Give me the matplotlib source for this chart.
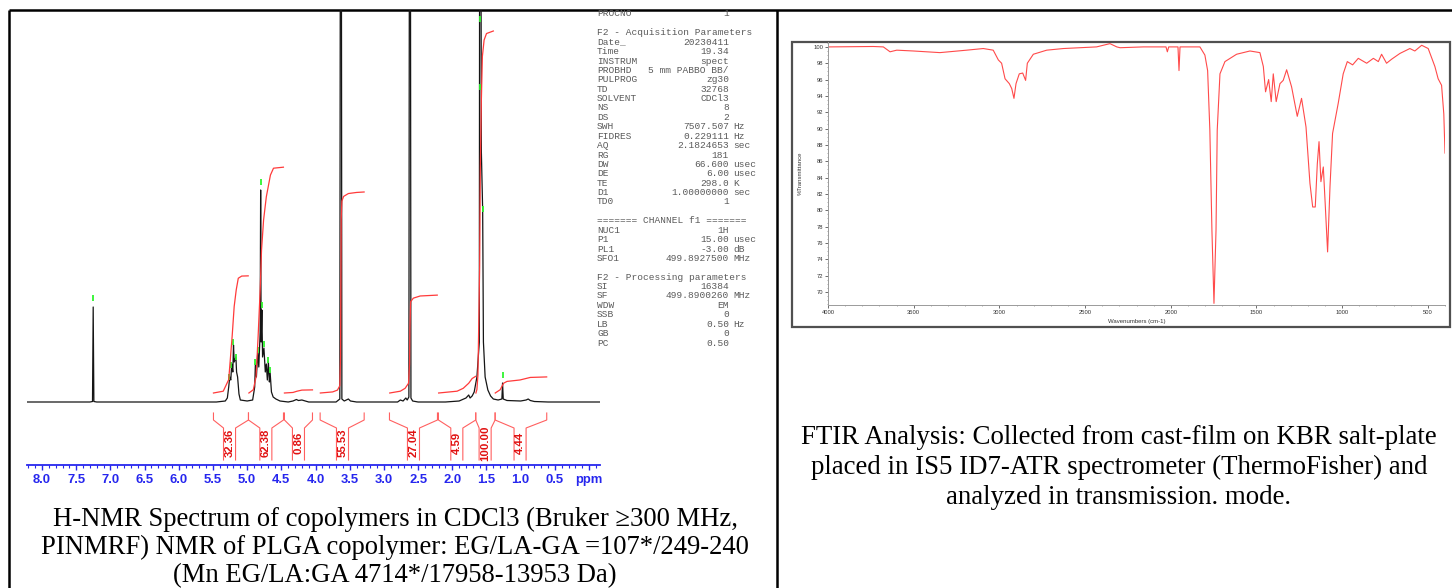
import matplotlib
matplotlib.use('Agg')
import matplotlib.pyplot as plt
from matplotlib.patches import Rectangle
from matplotlib.ticker import MultipleLocator, FuncFormatter

W, H = 1452, 588
plt.rcParams['font.family'] = ['Liberation Sans', 'DejaVu Sans']

# ---------------- H-NMR trace (ppm, intensity above baseline)
nmr_ppm = [8.22, 7.30, 7.262, 7.252, 7.242, 7.20, 5.45, 5.32, 5.29, 5.27,
           5.255, 5.24, 5.225, 5.21, 5.20, 5.19, 5.165, 5.155, 5.14, 5.12,
           5.10, 5.00, 4.92, 4.89, 4.88, 4.865, 4.845, 4.83, 4.81, 4.803,
           4.796, 4.785, 4.775, 4.755, 4.735, 4.72, 4.705, 4.69, 4.675, 4.665,
           4.645, 4.62, 4.58, 4.52, 4.40, 4.33, 4.28, 4.25, 4.20, 4.10,
           3.70, 3.645, 3.630, 3.615, 3.58, 3.52, 3.49, 3.40, 2.80, 2.76,
           2.72, 2.68, 2.66, 2.635, 2.620, 2.605, 2.58, 2.50, 2.10, 1.90,
           1.80, 1.76, 1.74, 1.71, 1.68, 1.64, 1.605, 1.595, 1.575, 1.556,
           1.545, 1.52, 1.48, 1.44, 1.40, 1.33, 1.275, 1.265, 1.255, 1.20,
           1.00, 0.92, 0.89, 0.86, 0.80, 0.60, -0.16]
nmr_int = [0, 0, 0.5, 95, 0.5, 0, 0, 1, 4, 15,
           25, 22, 38, 30, 57, 40, 45, 30, 25, 8,
           2, 1, 2, 15, 38, 25, 50, 35, 70, 212,
           60, 92, 45, 54, 30, 38, 22, 40, 20, 30,
           10, 5, 3, 1, 0, 1, 2.5, 1.5, 2, 0,
           0, 3, 1000, 3, 1, 3, 1, 0, 0, 2,
           1, 4, 2, 5, 1000, 4, 1, 0, 0, 1,
           4, 7, 4, 6, 10, 25, 60, 1000, 250, 192,
           60, 25, 12, 6, 3, 2, 3, 19, 3, 1.5,
           1, 2, 3, 1.5, 0.5, 0, 0]

# green peak-pick ticks (ppm, height of the tick foot)
pick_ppm = [7.252, 5.26, 5.23, 5.20, 5.16, 4.88, 4.84, 4.803, 4.785, 4.75,
            4.70, 4.67, 1.595, 1.595, 1.556, 1.265]
pick_h = [101, 22, 34, 57, 42, 37, 49, 217, 94, 55,
          39, 29, 380, 312, 190, 24]

# integrals
int_value = [32.36, 62.38, 0.86, 55.53, 27.04, 4.59, 100.00, 4.44]
int_from = [5.493, 4.981, 4.455, 3.933, 2.919, 2.203, 1.657, 1.374]
int_to = [4.981, 4.469, 4.045, 3.289, 2.217, 1.657, 1.374, 0.619]
int_label_ppm = [5.258, 4.727, 4.25, 3.606, 2.568, 1.934, 1.52, 1.009]
int_curve_ppm = [
    [5.493, 5.35, 5.27, 5.22, 5.19, 5.16, 5.13, 5.08, 4.985],
    [4.975, 4.91, 4.87, 4.84, 4.81, 4.79, 4.76, 4.72, 4.66, 4.615, 4.47],
    [4.455, 4.33, 4.27, 4.20, 4.045],
    [3.93, 3.75, 3.68, 3.645, 3.635, 3.63, 3.625, 3.615, 3.59, 3.52, 3.40, 3.29],
    [2.915, 2.76, 2.69, 2.64, 2.625, 2.62, 2.61, 2.57, 2.47, 2.22],
    [2.20, 1.93, 1.84, 1.76, 1.71, 1.66],
    [1.655, 1.64, 1.625, 1.60, 1.59, 1.575, 1.56, 1.535, 1.50, 1.40],
    [1.372, 1.30, 1.25, 1.20, 1.01, 0.86, 0.62],
]
int_curve_val = [
    [0, 0.5, 3.7, 15.6, 23.9, 28.5, 31.7, 32.3, 32.36],
    [0, 0.9, 4.5, 15.6, 28.5, 39.5, 47.8, 54.2, 60.2, 62.1, 62.38],
    [0, 0.15, 0.5, 0.8, 0.86],
    [0, 0.3, 0.8, 2.0, 10, 30, 48, 53, 54.3, 55.1, 55.4, 55.53],
    [0, 0.5, 1.3, 2.7, 8, 18, 25.2, 26.2, 26.8, 27.04],
    [0, 0.5, 1.3, 2.7, 4.0, 4.59],
    [0, 1.0, 5, 35, 62.5, 81, 93, 97.5, 99.3, 100],
    [0, 0.9, 2.7, 3.2, 3.6, 4.3, 4.44],
]

# acquisition / processing parameters
par_label = ['PROCNO', '', 'F2 - Acquisition Parameters', 'Date_', 'Time', 'INSTRUM',
             'PROBHD', 'PULPROG', 'TD', 'SOLVENT', 'NS', 'DS', 'SWH', 'FIDRES', 'AQ',
             'RG', 'DW', 'DE', 'TE', 'D1', 'TD0', '', '======= CHANNEL f1 =======',
             'NUC1', 'P1', 'PL1', 'SFO1', '', 'F2 - Processing parameters', 'SI', 'SF',
             'WDW', 'SSB', 'LB', 'GB', 'PC']
par_value = ['1', '', '', '20230411', '19.34', 'spect', '5 mm PABBO BB/', 'zg30',
             '32768', 'CDCl3', '8', '2', '7507.507', '0.229111', '2.1824653', '181',
             '66.600', '6.00', '298.0', '1.00000000', '1', '', '', '1H', '15.00',
             '-3.00', '499.8927500', '', '', '16384', '499.8900260', 'EM', '0',
             '0.50', '0', '0.50']
par_unit = ['', '', '', '', '', '', '', '', '', '', '', '', 'Hz', 'Hz', 'sec', '',
            'usec', 'usec', 'K', 'sec', '', '', '', '', 'usec', 'dB', 'MHz', '', '',
            '', 'MHz', '', '', 'Hz', '', '']

# ---------------- FTIR trace (wavenumber, %T)
ftir_wn = [4000, 3988, 3736, 3677, 3638, 3599, 3502, 3347, 3191, 3094,
           3036, 3006, 2987, 2967, 2942, 2928, 2915, 2903, 2884, 2864,
           2847, 2837, 2802, 2724, 2627, 2433, 2355, 2315, 2296, 2160,
           2028, 2020, 2012, 1958, 1952, 1946, 1830, 1801, 1785, 1772,
           1760, 1748, 1736, 1729, 1713, 1684, 1616, 1538, 1480, 1460,
           1447, 1429, 1414, 1402, 1385, 1363, 1344, 1324, 1295, 1262,
           1237, 1211, 1188, 1172, 1157, 1145, 1135, 1124, 1110, 1099,
           1085, 1071, 1056, 1023, 994, 970, 939, 906, 857, 818,
           789, 770, 741, 711, 663, 605, 576, 536, 498, 459,
           440, 420, 407, 400]
ftir_T = [100.0, 100.0, 100.05, 100.0, 99.4, 99.6, 99.5, 99.3, 99.6, 99.8,
          99.6, 98.4, 98.0, 96.1, 95.5, 94.9, 93.7, 95.5, 96.7, 96.8,
          95.9, 98.0, 99.1, 99.6, 99.8, 100.0, 100.4, 100.0, 99.9, 100.0,
          100.0, 99.4, 100.0, 100.0, 97.1, 100.0, 100.0, 99.0, 97.1, 89.8,
          77.6, 68.6, 77.6, 89.8, 96.7, 98.2, 99.1, 99.5, 99.3, 97.6,
          94.5, 96.0, 93.3, 96.7, 93.3, 95.5, 95.9, 97.2, 95.1, 91.5,
          93.7, 90.2, 83.3, 80.4, 80.4, 85.7, 88.4, 83.5, 85.3, 80.8,
          74.9, 82.9, 89.4, 93.1, 96.7, 98.2, 97.8, 98.6, 98.0, 98.6,
          98.2, 99.1, 98.0, 98.5, 99.2, 99.8, 99.5, 100.2, 99.8, 97.6,
          96.1, 95.3, 91.8, 87.0]

nmr_caption = ['H-NMR Spectrum of copolymers in CDCl3 (Bruker \u2265300 MHz,',
               'PINMRF) NMR of PLGA copolymer: EG/LA-GA =107*/249-240',
               '(Mn EG/LA:GA 4714*/17958-13953 Da)']
ftir_caption = ['FTIR Analysis: Collected from cast-film on KBR salt-plate',
                'placed in IS5 ID7-ATR spectrometer (ThermoFisher) and',
                'analyzed in transmission. mode.']


def frac(x0, y0, x1, y1):
    return [x0 / W, 1 - y1 / H, (x1 - x0) / W, (y1 - y0) / H]


fig = plt.figure(figsize=(W / 100, H / 100), dpi=100)
bg = fig.add_axes([0, 0, 1, 1])
bg.set_xlim(0, W)
bg.set_ylim(H, 0)
bg.axis('off')

# table borders
for xs, ys in [([9, W], [10, 10]), ([9, 9], [10, H]), ([777, 777], [10, H])]:
    bg.plot(xs, ys, color='black', lw=1.8, solid_capstyle='butt')

# ---------------- NMR panel
ax = fig.add_axes(frac(27, 10, 600, 465))
ax.patch.set_alpha(0)
ax.set_xlim(8.22, -0.16)
ax.set_ylim(-63, 392)
ax.plot(nmr_ppm, nmr_int, color='#151515', lw=0.9, zorder=3)
ax.vlines(pick_ppm, pick_h, [h + 6 for h in pick_h], color='#2ef52e', lw=1.3, zorder=4)

red = '#ff3a3a'
for cp, cv in zip(int_curve_ppm, int_curve_val):
    ax.plot(cp, [9 + v * 3.62 for v in cv], color=red, lw=0.9, zorder=5)

g = 0.088
for a, b, c, v in zip(int_from, int_to, int_label_ppm, int_value):
    ax.plot([a, a, c + g, c + g], [-11, -18, -26, -58], color='#ff6060', lw=0.8)
    ax.plot([b, b, c - g, c - g], [-11, -18, -26, -58], color='#ff6060', lw=0.8)
    ax.text(c, -41, f'{v:.2f}', rotation=90, ha='center', va='center',
            color='#e01010', fontsize=8.2, fontweight='bold')

for s in ['left', 'top', 'right']:
    ax.spines[s].set_visible(False)
blue = '#2626ee'
ax.spines['bottom'].set_color(blue)
ax.spines['bottom'].set_linewidth(1.3)
ax.yaxis.set_visible(False)
ax.xaxis.set_major_locator(MultipleLocator(0.5))
ax.xaxis.set_minor_locator(MultipleLocator(0.1))
ax.xaxis.set_major_formatter(FuncFormatter(lambda v, p: '' if abs(v) < 0.01 else f'{v:.1f}'))
ax.tick_params(axis='x', which='major', direction='out', length=3.6, width=1,
               colors=blue, labelsize=9.4, pad=3)
ax.tick_params(axis='x', which='minor', direction='out', length=2, width=0.8, colors=blue)
for t in ax.get_xticklabels():
    t.set_fontweight('bold')
bg.text(589, 480, 'ppm', color=blue, fontsize=9.4, fontweight='bold', ha='center', va='center')

# parameter listing
for k, (lab, val, unit) in enumerate(zip(par_label, par_value, par_unit)):
    y = 14 + 9.4 * k
    kw = dict(family=['Liberation Mono', 'DejaVu Sans Mono'], fontsize=6.8,
              color='#5a5a5a', va='center')
    if lab:
        bg.text(597, y, lab, ha='left', **kw)
    if val:
        bg.text(729, y, val, ha='right', **kw)
    if unit:
        bg.text(733, y, unit, ha='left', **kw)

serif = ['Liberation Serif', 'DejaVu Serif']
for k, line in enumerate(nmr_caption):
    bg.text(395, 519 + 28.5 * k, line, ha='center', va='center', family=serif,
            fontsize=19.2, color='black')

# ---------------- FTIR panel
bg.add_patch(Rectangle((792, 42), 658, 285, fill=False, ec='#505050', lw=1.6))
ax2 = fig.add_axes(frac(828, 42, 1445, 305))
ax2.patch.set_alpha(0)
ax2.plot(ftir_wn, ftir_T, color='#ff4a4a', lw=0.8)
ax2.set_xlim(4000, 400)
ax2.set_ylim(68.4, 100.6)
ax2.set_yticks(range(70, 101, 2))
ax2.set_xticks(range(4000, 499, -500))
ax2.yaxis.set_minor_locator(MultipleLocator(0.5))
ax2.xaxis.set_minor_locator(MultipleLocator(100))
for s in ['top', 'right']:
    ax2.spines[s].set_visible(False)
for s in ['left', 'bottom']:
    ax2.spines[s].set_color('#9a9a9a')
    ax2.spines[s].set_linewidth(0.7)
ax2.tick_params(which='major', length=2, width=0.6, colors='#555', labelsize=4.2,
                labelcolor='#333', pad=1.5)
ax2.tick_params(which='minor', length=1, width=0.5, colors='#888')
bg.text(800, 173, '%Transmittance', rotation=90, ha='center', va='center',
        fontsize=4.3, color='#333')
bg.text(1137, 322, 'Wavenumbers (cm-1)', ha='center', va='center',
        fontsize=4.3, color='#333')

for k, line in enumerate(ftir_caption):
    bg.text(1119, 438 + 29.5 * k, line, ha='center', va='center', family=serif,
            fontsize=19.4, color='black')

fig.savefig('out.png', dpi=100)
